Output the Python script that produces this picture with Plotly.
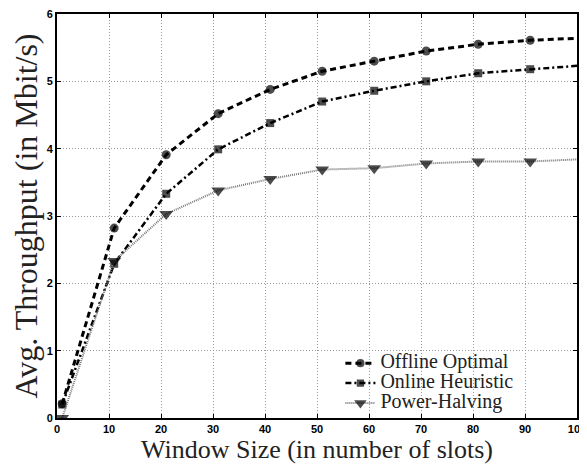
import plotly.graph_objects as go

window = [1, 11, 21, 31, 41, 51, 61, 71, 81, 91, 100]
offline = [0.21, 2.82, 3.91, 4.52, 4.88, 5.15, 5.30, 5.45, 5.55, 5.61, 5.64]
online = [0.20, 2.29, 3.33, 3.99, 4.38, 4.70, 4.86, 5.00, 5.12, 5.18, 5.23]
halving = [0.0, 2.33, 3.03, 3.38, 3.55, 3.69, 3.71, 3.78, 3.81, 3.81, 3.84]
names = ["Offline Optimal", "Online Heuristic", "Power-Halving"]
x_ticks = [0, 10, 20, 30, 40, 50, 60, 70, 80, 90, 100]
y_ticks = [0, 1, 2, 3, 4, 5, 6]

def sizes(s):
    return [s] * (len(window) - 1) + [0]

def big(name):
    return '<span style="font-size:20px">' + name + '</span>'

fig = go.Figure()
fig.add_trace(go.Scatter(x=window, y=offline, name=big(names[0]), mode="lines+markers",
                         line=dict(color="black", width=3, dash="6px,4px"),
                         marker=dict(symbol="circle", size=sizes(9), color="black",
                                     line=dict(width=0))))
fig.add_trace(go.Scatter(x=window, y=online, name=big(names[1]), mode="lines+markers",
                         line=dict(color="black", width=2.5, dash="6px,3px,2px,3px"),
                         marker=dict(symbol="square", size=sizes(8), color="black",
                                     line=dict(width=0))))
fig.add_trace(go.Scatter(x=window, y=halving, name=big(names[2]), mode="lines+markers",
                         line=dict(color="#777777", width=2, dash="1px,1px"),
                         marker=dict(symbol="triangle-down", size=sizes(12), color="black",
                                     line=dict(width=0))))

axis_common = dict(
    showline=True, linecolor="black", linewidth=2, mirror="allticks",
    ticks="inside", ticklen=4, tickcolor="black", tickwidth=1,
    showgrid=True, gridcolor="#999999", griddash="1px,2px", gridwidth=1,
    zeroline=False, automargin=False, ticklabeloverflow="allow",
    tickfont=dict(family="Liberation Sans", size=11, color="black", weight="bold"),
)

fig.update_xaxes(range=[0, 100], tickvals=x_ticks, ticktext=[str(v) for v in x_ticks],
                 title=dict(text="Window Size (in number of slots)",
                            font=dict(family="Liberation Serif", size=26, color="#222"),
                            standoff=0),
                 **axis_common)
fig.update_yaxes(range=[0, 6], tickvals=y_ticks, ticktext=[str(v) for v in y_ticks],
                 title=dict(text="Avg. Throughput (in Mbit/s)",
                            font=dict(family="Liberation Serif", size=32, color="#222"),
                            standoff=4),
                 **axis_common)

fig.update_layout(
    width=579, height=456,
    margin=dict(l=49, r=10, t=6, b=46),
    paper_bgcolor="white", plot_bgcolor="white",
    showlegend=True,
    legend=dict(x=0.545, y=0.086, xanchor="left", yanchor="middle",
                bgcolor="rgba(0,0,0,0)", borderwidth=0,
                font=dict(family="Liberation Serif", size=13, color="#222"),
                tracegroupgap=0),
)

fig.write_html("out.html")
